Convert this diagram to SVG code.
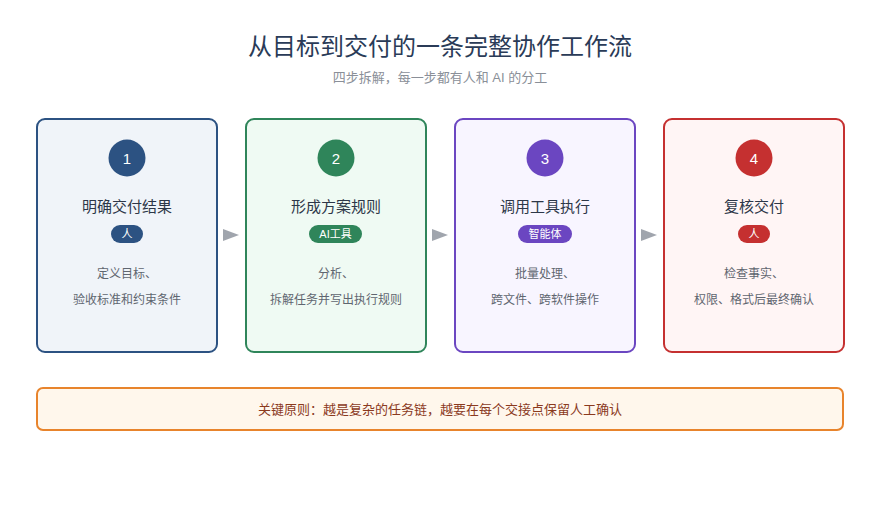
<svg xmlns="http://www.w3.org/2000/svg" width="880" height="520" viewBox="0 0 880 520">
<defs>
<style>
text{font-family:"Liberation Sans","Noto Sans CJK SC",sans-serif;text-anchor:middle}
.title{font-size:24px;fill:#2a3b57}
.sub{font-size:13px;fill:#8a8f98}
.card{stroke-width:2}
.num{font-size:15px;fill:#fff}
.ht{font-size:15px;fill:#2d3748}
.badge{font-size:11px;fill:#fff}
.desc{font-size:12px;fill:#5f6670}
.arrow{fill:#a0a5ad}
</style>
</defs>
<rect width="880" height="520" fill="#ffffff"/>
<text class="title" x="440" y="55">从目标到交付的一条完整协作工作流</text>
<text class="sub" x="440" y="82">四步拆解，每一步都有人和 AI 的分工</text>

<g id="connectors">
<polygon class="arrow" points="223,229 239,235 223,241"/>
<polygon class="arrow" points="432,229 448,235 432,241"/>
<polygon class="arrow" points="641,229 657,235 641,241"/>
</g>

<g id="step1">
<rect class="card" x="37" y="119" width="180" height="233" rx="8" fill="#f0f4f9" stroke="#2c5282"/>
<circle cx="127" cy="158" r="18.5" fill="#2c5282"/>
<text class="num" x="127" y="163.5">1</text>
<text class="ht" x="127" y="212">明确交付结果</text>
<rect x="111" y="225" width="32" height="18" rx="9" fill="#2c5282"/>
<text class="badge" x="127" y="238">人</text>
<text class="desc" x="127" y="278">定义目标、</text>
<text class="desc" x="127" y="304">验收标准和约束条件</text>
</g>

<g id="step2">
<rect class="card" x="246" y="119" width="180" height="233" rx="8" fill="#effaf3" stroke="#2f855a"/>
<circle cx="336" cy="158" r="18.5" fill="#2f855a"/>
<text class="num" x="336" y="163.5">2</text>
<text class="ht" x="336" y="212">形成方案规则</text>
<rect x="309" y="225" width="53" height="18" rx="9" fill="#2f855a"/>
<text class="badge" x="335.5" y="238">AI工具</text>
<text class="desc" x="336" y="278">分析、</text>
<text class="desc" x="336" y="304">拆解任务并写出执行规则</text>
</g>

<g id="step3">
<rect class="card" x="455" y="119" width="180" height="233" rx="8" fill="#f8f5ff" stroke="#6b46c1"/>
<circle cx="545" cy="158" r="18.5" fill="#6b46c1"/>
<text class="num" x="545" y="163.5">3</text>
<text class="ht" x="545" y="212">调用工具执行</text>
<rect x="518" y="225" width="54" height="18" rx="9" fill="#6b46c1"/>
<text class="badge" x="545" y="238">智能体</text>
<text class="desc" x="545" y="278">批量处理、</text>
<text class="desc" x="545" y="304">跨文件、跨软件操作</text>
</g>

<g id="step4">
<rect class="card" x="664" y="119" width="180" height="233" rx="8" fill="#fff5f5" stroke="#c53030"/>
<circle cx="754" cy="158" r="18.5" fill="#c53030"/>
<text class="num" x="754" y="163.5">4</text>
<text class="ht" x="754" y="212">复核交付</text>
<rect x="738" y="225" width="32" height="18" rx="9" fill="#c53030"/>
<text class="badge" x="754" y="238">人</text>
<text class="desc" x="754" y="278">检查事实、</text>
<text class="desc" x="754" y="304">权限、格式后最终确认</text>
</g>

<g id="principle">
<rect x="37" y="388" width="806" height="42" rx="6" fill="#fff7ec" stroke="#e8842c" stroke-width="2"/>
<text x="440" y="414" font-size="13" fill="#8b3a1e">关键原则：越是复杂的任务链，越要在每个交接点保留人工确认</text>
</g>
</svg>
